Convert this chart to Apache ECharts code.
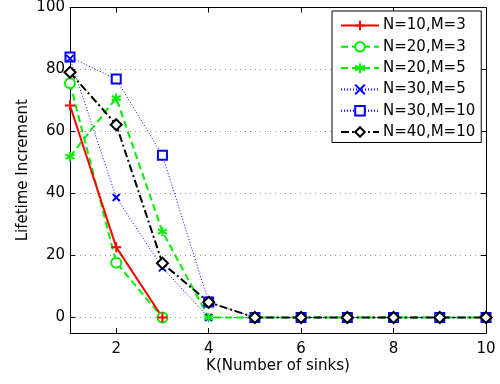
<!DOCTYPE html>
<html>
<head>
<meta charset="utf-8">
<script src="https://cdn.jsdelivr.net/npm/echarts@6/dist/echarts.min.js"></script>
<style>
  html, body { margin: 0; padding: 0; background: #fff; }
  #chart { width: 500px; height: 384px; }
</style>
</head>
<body>
<div id="chart"></div>
<script>
// data
var kValues = [1, 2, 3, 4, 5, 6, 7, 8, 9, 10];
var n10m3 = [68.4, 22.7, 0, null, null, null, null, null, null, null];
var n20m3 = [75.6, 17.7, 0, null, null, null, null, null, null, null];
var n20m5 = [51.9, 70.8, 27.7, 0, 0, 0, 0, 0, 0, 0];
var n30m5 = [83.5, 38.7, 16, 0, 0, 0, 0, 0, 0, 0];
var n30m10 = [84, 76.9, 52.3, 5, 0, 0, 0, 0, 0, 0];
var n40m10 = [79.1, 62.2, 17.5, 4.9, 0, 0, 0, 0, 0, 0];
var xTicks = [2, 4, 6, 8, 10];
var yTicks = [0, 20, 40, 60, 80, 100];

// marker shapes (stroke only)
var plusPath = 'path://M5,0L5,10M0,5L10,5';
var xPath = 'path://M0,0L10,10M0,10L10,0';
var starPath = 'path://M5,0L5,10M0.7,2.5L9.3,7.5M0.7,7.5L9.3,2.5';

function pairs(arr) {
  return kValues.map(function (k, i) { return [k, arr[i]]; });
}

function makeSeries(name, arr, color, lineType, width, symbol, size, filled) {
  return {
    name: name,
    type: 'line',
    data: pairs(arr),
    symbol: symbol,
    symbolSize: size,
    showAllSymbol: true,
    connectNulls: false,
    lineStyle: { color: color, width: width, type: lineType },
    itemStyle: { color: filled ? color : '#fff', borderColor: color, borderWidth: 2 },
    emphasis: { disabled: true },
    animation: false
  };
}

var chart = echarts.init(document.getElementById('chart'));
var font = 'DejaVu Sans, sans-serif';

var baseX = {
  type: 'value', min: 1, max: 10,
  axisLine: { show: true, onZero: false, lineStyle: { color: '#000', width: 1 } },
  axisTick: { show: true, inside: true, length: 5, customValues: xTicks, lineStyle: { color: '#000' } },
  splitLine: { show: false }
};
var baseY = {
  type: 'value', min: -5, max: 100,
  axisLine: { show: true, onZero: false, lineStyle: { color: '#000', width: 1 } },
  axisTick: { show: true, inside: true, length: 5, customValues: yTicks, lineStyle: { color: '#000' } }
};

chart.setOption({
  backgroundColor: '#fff',
  textStyle: { fontFamily: font },
  grid: { left: 70, right: 14, top: 7, bottom: 51, containLabel: false },
  legend: {
    orient: 'vertical',
    left: 332,
    top: 11,
    padding: [7, 6, 3, 8],
    backgroundColor: '#fff',
    borderColor: '#000',
    borderWidth: 1,
    itemWidth: 38,
    itemHeight: 12,
    itemGap: 6.3,
    textStyle: { fontSize: 15, color: '#000', fontFamily: font, padding: [0, 0, 0, -1] },
    data: ['N=10,M=3', 'N=20,M=3', 'N=20,M=5', 'N=30,M=5', 'N=30,M=10', 'N=40,M=10']
  },
  xAxis: [
    Object.assign({}, baseX, {
      position: 'bottom',
      name: 'K(Number of sinks)',
      nameLocation: 'middle',
      nameGap: 26,
      nameMoveOverlap: false,
      nameTextStyle: { fontSize: 15, color: '#000', fontFamily: font },
      axisLabel: { show: true, customValues: xTicks, margin: 9, fontSize: 15, color: '#000', fontFamily: font }
    }),
    Object.assign({}, baseX, {
      position: 'top',
      axisLabel: { show: false }
    })
  ],
  yAxis: [
    Object.assign({}, baseY, {
      position: 'left',
      name: 'Lifetime Increment',
      nameLocation: 'middle',
      nameGap: 39,
      nameMoveOverlap: false,
      nameTextStyle: { fontSize: 15, color: '#000', fontFamily: font },
      axisLabel: { show: true, customValues: yTicks, margin: 5, fontSize: 15, color: '#000', fontFamily: font },
      splitLine: { show: true, lineStyle: { color: '#999', type: [1, 4], width: 1 } }
    }),
    Object.assign({}, baseY, {
      position: 'right',
      axisLabel: { show: false },
      splitLine: { show: false }
    })
  ],
  series: [
    makeSeries('N=30,M=10', n30m10, '#0000ff', [1, 2], 1, 'rect', 9, false),
    makeSeries('N=30,M=5', n30m5, '#0000ff', [1, 2], 1, xPath, 7, true),
    makeSeries('N=20,M=5', n20m5, '#00ee00', [7, 4], 2, starPath, 9, true),
    makeSeries('N=20,M=3', n20m3, '#00ee00', [7, 4], 2, 'circle', 10, false),
    makeSeries('N=10,M=3', n10m3, '#ff0000', 'solid', 2, plusPath, 10, true),
    makeSeries('N=40,M=10', n40m10, '#000000', [8, 3, 2, 3], 2, 'diamond', 11, false)
  ]
});
</script>
</body>
</html>
